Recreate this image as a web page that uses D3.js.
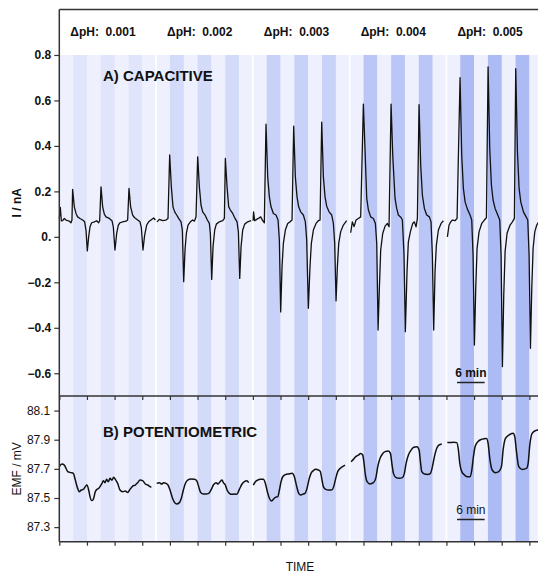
<!DOCTYPE html>
<html>
<head>
<meta charset="utf-8">
<script src="https://cdn.jsdelivr.net/npm/d3@7.9.0/dist/d3.min.js"></script>
<style>
  body { margin: 0; background: #fff; }
  text { font-family: "Liberation Sans", Arial, Helvetica, sans-serif; fill: #111; }
</style>
</head>
<body>
<svg id="chart" width="538" height="573"></svg>
<script>
// pH steps, one group of three pulses each (21 min per group)
const groups = ["0.001", "0.002", "0.003", "0.004", "0.005"];
const groupLen = 21;

// A) capacitive current, I / nA  -- [time (min), value]
const capG1 = [[0,0.08],[0.22,0.13],[0.45,0.07],[0.72,0.071],[1.09,0.081],[1.45,0.074],[1.81,0.071],[2.17,0.069],[2.53,0.062],[2.75,0.074],[2.89,0.209],[3.26,0.132],[3.62,0.103],[3.98,0.088],[4.49,0.081],[5.07,0.074],[5.5,0.066],[5.79,0.03],[6.08,-0.062],[6.37,0.0],[6.66,0.044],[7.02,0.062],[7.6,0.066],[8.1,0.071],[8.54,0.062],[8.76,0.071],[9.05,0.22],[9.41,0.132],[9.77,0.1],[10.13,0.088],[10.85,0.081],[11.43,0.071],[11.72,0.044],[12.08,-0.058],[12.45,0.015],[12.81,0.052],[13.17,0.062],[13.75,0.066],[14.47,0.069],[14.83,0.074],[15.12,0.213],[15.48,0.132],[15.92,0.096],[16.35,0.084],[17.0,0.074],[17.51,0.066],[17.8,0.041],[18.16,-0.058],[18.52,0.008],[18.96,0.052],[19.39,0.066],[19.9,0.074],[20.48,0.083],[20.84,0.074]];
const capG2 = [[21.2,0.066],[21.71,0.077],[22.43,0.071],[23.15,0.074],[23.59,0.081],[23.95,0.36],[24.31,0.22],[24.67,0.132],[25.04,0.11],[25.47,0.096],[25.9,0.081],[26.41,0.066],[26.7,0.03],[26.99,-0.197],[27.28,-0.058],[27.57,0.015],[27.93,0.052],[28.44,0.066],[28.94,0.074],[29.31,0.069],[29.67,0.088],[30.03,0.352],[30.39,0.22],[30.75,0.14],[31.11,0.11],[31.62,0.096],[32.13,0.074],[32.56,0.059],[32.78,0.015],[33.07,-0.187],[33.36,-0.043],[33.72,0.03],[34.08,0.056],[34.73,0.066],[35.46,0.071],[35.82,0.081],[36.03,0.345],[36.4,0.22],[36.76,0.132],[37.12,0.118],[37.63,0.103],[38.13,0.081],[38.57,0.066],[38.86,0.022],[39.15,-0.183],[39.44,-0.043],[39.8,0.03],[40.23,0.056],[40.88,0.066],[41.61,0.071]];
const capG3 = [[42.05,0.071],[42.15,0.11],[42.4,0.071],[42.83,0.077],[43.19,0.081],[43.7,0.088],[44.13,0.071],[44.49,0.062],[44.85,0.496],[45.22,0.264],[45.58,0.176],[45.94,0.132],[46.45,0.103],[47.02,0.096],[47.46,0.074],[47.75,-0.014],[48.04,-0.33],[48.33,-0.131],[48.62,-0.029],[49.05,0.03],[49.56,0.059],[50.06,0.066],[50.5,0.074],[50.86,0.487],[51.22,0.264],[51.58,0.176],[51.94,0.132],[52.38,0.11],[52.96,0.096],[53.39,0.066],[53.68,-0.014],[54.04,-0.314],[54.4,-0.131],[54.69,-0.029],[55.13,0.03],[55.71,0.059],[56.21,0.071],[56.58,0.074],[56.94,0.505],[57.3,0.264],[57.66,0.176],[58.02,0.135],[58.53,0.11],[59.11,0.096],[59.47,0.059],[59.76,-0.029],[60.05,-0.282],[60.34,-0.131],[60.63,-0.029],[61.06,0.023],[61.64,0.052],[62.36,0.071]];
const capG4 = [[63.23,0.018],[63.59,0.066],[63.96,0.045],[64.39,0.074],[64.9,0.081],[65.4,0.088],[65.98,0.584],[66.34,0.382],[66.71,0.169],[67.07,0.118],[67.57,0.088],[68.15,0.081],[68.59,0.059],[68.88,-0.029],[69.17,-0.41],[69.46,-0.219],[69.74,-0.058],[70.18,0.015],[70.69,0.047],[71.19,0.059],[71.55,0.045],[71.99,0.584],[72.35,0.36],[72.85,0.169],[73.21,0.125],[73.57,0.096],[74.15,0.085],[74.44,0.074],[74.8,-0.08],[75.09,-0.417],[75.45,-0.153],[75.74,-0.022],[76.18,0.022],[76.68,0.059],[77.05,0.066],[77.41,0.044],[77.7,0.081],[78.06,0.582],[78.42,0.315],[78.78,0.184],[79.22,0.125],[79.72,0.096],[80.3,0.088],[80.66,0.066],[80.95,-0.08],[81.24,-0.41],[81.53,-0.153],[81.82,-0.036],[82.26,0.03],[82.84,0.059],[83.34,0.071]];
const capG5 = [[84.21,0.0],[84.57,0.052],[84.93,0.066],[85.3,0.074],[85.87,0.071],[86.31,0.081],[86.96,0.70],[87.32,0.359],[87.68,0.213],[88.05,0.154],[88.55,0.122],[89.13,0.096],[89.49,0.074],[89.78,-0.08],[90.07,-0.476],[90.36,-0.227],[90.65,-0.051],[91.08,0.022],[91.66,0.059],[92.24,0.074],[92.68,0.084],[93.04,0.748],[93.4,0.389],[93.76,0.228],[94.12,0.162],[94.56,0.125],[95.14,0.096],[95.57,0.074],[95.86,-0.08],[96.15,-0.571],[96.44,-0.256],[96.73,-0.065],[97.16,0.016],[97.81,0.052],[98.32,0.066],[98.75,0.081],[99.04,0.74],[99.41,0.374],[99.77,0.213],[100.13,0.154],[100.71,0.11],[101.29,0.088],[101.65,0.074],[101.94,-0.08],[102.23,-0.49],[102.52,-0.227],[102.81,-0.051],[103.17,0.022],[103.6,0.052],[104.04,0.066]];

// B) potentiometric EMF / mV
const potG1 = [[0,87.715],[0.58,87.733],[1.09,87.726],[1.45,87.704],[1.81,87.681],[2.53,87.674],[3.04,87.669],[3.47,87.623],[3.98,87.566],[4.34,87.543],[4.78,87.555],[5.21,87.559],[5.64,87.578],[6.0,87.589],[6.37,87.555],[6.66,87.509],[7.02,87.482],[7.38,87.491],[7.81,87.543],[8.18,87.559],[8.54,87.566],[8.83,87.578],[9.26,87.6],[9.55,87.619],[9.91,87.605],[10.27,87.628],[10.64,87.612],[11.0,87.635],[11.43,87.623],[11.79,87.642],[12.16,87.628],[12.66,87.6],[13.17,87.555],[13.75,87.543],[14.33,87.548],[14.83,87.537],[15.34,87.559],[15.92,87.582],[16.5,87.589],[17.0,87.605],[17.51,87.623],[18.09,87.619],[18.67,87.596],[19.18,87.589],[19.68,87.578],[19.97,87.573]];
const potG2 = [[21.13,87.6],[21.71,87.605],[22.21,87.596],[22.65,87.605],[23.15,87.6],[23.59,87.589],[24.02,87.555],[24.46,87.509],[24.89,87.475],[25.47,87.459],[26.05,87.468],[26.48,87.498],[26.92,87.555],[27.35,87.6],[27.86,87.623],[28.58,87.63],[29.31,87.628],[29.81,87.619],[30.25,87.578],[30.68,87.537],[31.26,87.527],[31.84,87.527],[32.42,87.532],[32.92,87.555],[33.43,87.589],[34.01,87.605],[34.44,87.596],[34.88,87.612],[35.31,87.623],[35.6,87.605],[36.03,87.589],[36.4,87.555],[36.9,87.532],[37.48,87.525],[37.99,87.527],[38.5,87.525],[39.07,87.559],[39.65,87.596],[40.16,87.612],[40.67,87.619],[41.1,87.605]];
const potG3 = [[42.11,87.589],[42.55,87.612],[43.05,87.623],[43.63,87.628],[44.28,87.628],[44.72,87.6],[45.15,87.543],[45.59,87.498],[46.02,87.479],[46.45,87.491],[46.89,87.504],[47.4,87.509],[47.76,87.555],[48.12,87.612],[48.48,87.646],[49.06,87.66],[49.78,87.665],[50.51,87.669],[51.01,87.646],[51.52,87.578],[51.95,87.532],[52.4,87.52],[52.74,87.525],[53.32,87.532],[53.75,87.566],[54.19,87.628],[54.62,87.669],[55.13,87.688],[55.64,87.697],[56.22,87.692],[56.65,87.681],[56.94,87.635],[57.3,87.578],[57.81,87.559],[58.39,87.555],[59.11,87.555],[59.54,87.578],[59.98,87.635],[60.41,87.681],[60.92,87.703],[61.42,87.715],[62.0,87.726]];
const potG4 = [[63.31,87.749],[63.81,87.765],[64.32,87.784],[64.9,87.795],[65.4,87.806],[65.84,87.795],[66.13,87.738],[66.42,87.658],[66.78,87.612],[67.43,87.596],[68.15,87.605],[68.66,87.635],[69.1,87.715],[69.6,87.772],[70.11,87.802],[70.69,87.818],[71.41,87.823],[71.85,87.806],[72.21,87.726],[72.5,87.669],[73.0,87.642],[73.73,87.635],[74.45,87.64],[74.88,87.669],[75.25,87.738],[75.75,87.795],[76.33,87.829],[76.91,87.848],[77.63,87.852],[78.07,87.829],[78.36,87.749],[78.65,87.681],[79.22,87.665],[79.95,87.662],[80.53,87.669],[80.96,87.715],[81.4,87.784],[81.9,87.841],[82.41,87.864],[82.99,87.871]];
const potG5 = [[84.2,87.88],[84.8,87.88],[85.52,87.882],[86.24,87.88],[86.6,87.83],[86.9,87.738],[87.33,87.681],[87.91,87.658],[88.49,87.646],[89.07,87.645],[89.5,87.69],[89.86,87.784],[90.22,87.852],[90.8,87.885],[91.6,87.902],[92.69,87.909],[93.05,87.875],[93.41,87.772],[93.92,87.692],[94.64,87.674],[95.36,87.681],[95.94,87.715],[96.3,87.829],[96.81,87.909],[97.53,87.932],[98.47,87.944],[98.83,87.921],[99.2,87.818],[99.7,87.715],[100.43,87.696],[101.37,87.703],[101.73,87.738],[102.09,87.864],[102.6,87.944],[103.32,87.962],[103.9,87.966]];

const capTicks = [-0.6, -0.4, -0.2, 0, 0.2, 0.4, 0.6, 0.8];
const potTicks = [87.3, 87.5, 87.7, 87.9, 88.1];

// stripe colours, darker with each pH step
const lightFill = "#eef1fd";
const darkFill = ["#e0e5fb", "#d4dbf9", "#c8d1f8", "#bac7f6", "#adbbf5"];

const svg = d3.select("#chart");
const axisColor = "#333";

const x = d3.scaleLinear().domain([0, 105]).range([59.3, 543.2]);
const yCap = d3.scaleLinear().domain([-0.7, 1.0]).range([396, 9.5]);
const yPot = d3.scaleLinear().domain([87.2, 88.2]).range([541.7, 396]);

// background stripes (3 min each, 7 per group)
const stripes = [];
groups.forEach((g, gi) => {
  for (let k = 0; k < 7; k++) {
    stripes.push({ t0: gi * groupLen + k * 3, t1: gi * groupLen + (k + 1) * 3,
                   fill: k % 2 ? darkFill[gi] : lightFill });
  }
});
svg.append("g").selectAll("rect")
  .data(stripes)
  .join("rect")
  .attr("x", d => x(d.t0))
  .attr("width", d => x(d.t1) - x(d.t0) + 0.3)
  .attr("y", yCap(0.8))
  .attr("height", yPot(87.2) - yCap(0.8))
  .attr("fill", d => d.fill);

// white gaps between pH groups
svg.append("g").selectAll("line")
  .data(d3.range(1, groups.length))
  .join("line")
  .attr("x1", d => x(d * groupLen)).attr("x2", d => x(d * groupLen))
  .attr("y1", yCap(0.8)).attr("y2", yPot(87.2))
  .attr("stroke", "#fff").attr("stroke-width", 1.6);

// traces
const capLine = d3.line().x(d => x(d[0])).y(d => yCap(d[1]));
const potLine = d3.line().x(d => x(d[0])).y(d => yPot(d[1])).curve(d3.curveMonotoneX);

svg.append("g").selectAll("path")
  .data([capG1, capG2, capG3, capG4, capG5])
  .join("path")
  .attr("d", capLine)
  .attr("fill", "none").attr("stroke", "#111").attr("stroke-width", 1.3)
  .attr("stroke-linejoin", "round");

svg.append("g").selectAll("path")
  .data([potG1, potG2, potG3, potG4, potG5])
  .join("path")
  .attr("d", potLine)
  .attr("fill", "none").attr("stroke", "#111").attr("stroke-width", 1.5);

// frame lines
const frame = svg.append("g").attr("stroke", axisColor).attr("stroke-width", 1.5);
frame.append("line").attr("x1", x(0)).attr("x2", 538).attr("y1", yCap(1.0)).attr("y2", yCap(1.0));
frame.append("line").attr("x1", x(0)).attr("x2", 538).attr("y1", yPot(88.2)).attr("y2", yPot(88.2));
frame.append("line").attr("x1", x(0)).attr("x2", 538).attr("y1", yPot(87.2)).attr("y2", yPot(87.2));
frame.append("line").attr("x1", x(0)).attr("x2", x(0)).attr("y1", yCap(1.0)).attr("y2", yPot(87.2));

// y axes
const capAxis = svg.append("g")
  .attr("transform", `translate(${x(0)},0)`)
  .call(d3.axisLeft(yCap).tickValues(capTicks).tickSize(5).tickPadding(3)
    .tickFormat(d => d === 0 ? "0." : d3.format(".1f")(d)));
capAxis.select(".domain").remove();
capAxis.selectAll("line").attr("stroke", axisColor).attr("stroke-width", 1.2);
capAxis.selectAll("text").attr("font-size", 12).attr("font-weight", "bold")
  .attr("font-family", "Liberation Sans, Arial, sans-serif").attr("fill", "#111");

const potAxis = svg.append("g")
  .attr("transform", `translate(${x(0)},0)`)
  .call(d3.axisLeft(yPot).tickValues(potTicks).tickSize(5).tickPadding(4)
    .tickFormat(d3.format(".1f")));
potAxis.select(".domain").remove();
potAxis.selectAll("line").attr("stroke", axisColor).attr("stroke-width", 1.2);
potAxis.selectAll("text").attr("font-size", 12)
  .attr("font-family", "Liberation Sans, Arial, sans-serif").attr("fill", "#111");

// time ticks: outside at the bottom, inside at top of panel B
const timeTicks = d3.range(0, 105, 6);
[[yPot(87.2)], [yPot(88.2)]].forEach(([yy]) => {
  const ax = svg.append("g")
    .attr("transform", `translate(0,${yy})`)
    .call(d3.axisBottom(x).tickValues(timeTicks).tickSize(4).tickFormat(""));
  ax.select(".domain").remove();
  ax.selectAll("line").attr("stroke", axisColor).attr("stroke-width", 1.2);
});

// labels
svg.append("g").selectAll("text")
  .data(groups)
  .join("text")
  .attr("x", (d, i) => x(i * groupLen) + 11)
  .attr("y", 36)
  .attr("font-size", 12).attr("font-weight", "bold")
  .style("white-space", "pre")
  .text(d => `ΔpH:  ${d}`);

svg.append("text").attr("x", 103).attr("y", 81)
  .attr("font-size", 15).attr("font-weight", "bold").text("A) CAPACITIVE");
svg.append("text").attr("x", 103).attr("y", 437)
  .attr("font-size", 15).attr("font-weight", "bold").text("B) POTENTIOMETRIC");

svg.append("text")
  .attr("transform", `translate(21,${(yCap(1.0) + yCap(-0.7)) / 2}) rotate(-90)`)
  .attr("text-anchor", "middle").attr("font-size", 12).attr("font-weight", "bold")
  .text("I / nA");
svg.append("text")
  .attr("transform", `translate(21,${(yPot(88.2) + yPot(87.2)) / 2}) rotate(-90)`)
  .attr("text-anchor", "middle").attr("font-size", 12)
  .text("EMF / mV");
svg.append("text").attr("x", 300).attr("y", 571)
  .attr("text-anchor", "middle").attr("font-size", 12).text("TIME");

// 6 min scale bars
const bar0 = 86.3;
[{ y: 377, bold: true }, { y: 514, bold: false }].forEach(s => {
  svg.append("text").attr("x", x(bar0 + 3)).attr("y", s.y)
    .attr("text-anchor", "middle").attr("font-size", 12)
    .attr("font-weight", s.bold ? "bold" : "normal").text("6 min");
  svg.append("line")
    .attr("x1", x(bar0)).attr("x2", x(bar0 + 6))
    .attr("y1", s.y + 5.5).attr("y2", s.y + 5.5)
    .attr("stroke", "#222").attr("stroke-width", 1.5);
});
</script>
</body>
</html>
